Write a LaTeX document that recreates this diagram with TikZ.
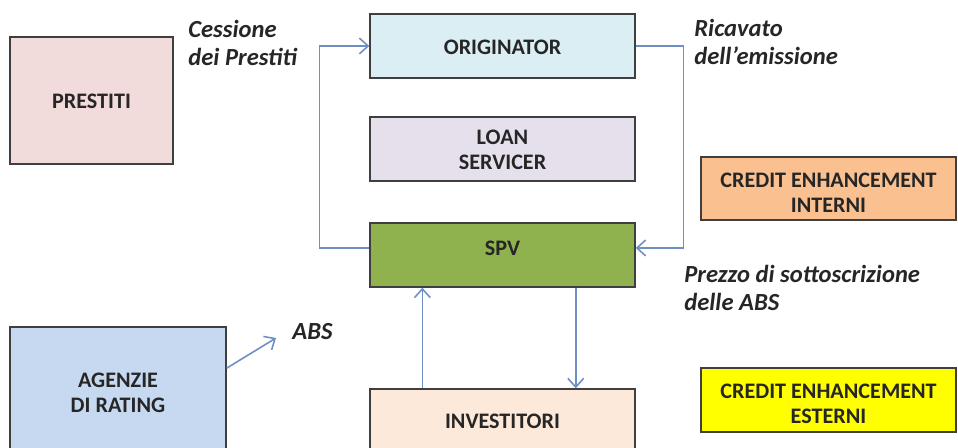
\documentclass[tikz,border=0pt]{standalone}
\usepackage{fontspec}
\setmainfont{Carlito}
\usepackage{tikz}
\usetikzlibrary{arrows.meta}

\definecolor{boxline}{HTML}{3F3F3F}
\definecolor{inkgray}{HTML}{262626}
\definecolor{flowblue}{HTML}{6F8FC4}
\definecolor{prestitifill}{HTML}{F2DCDB}
\definecolor{origfill}{HTML}{DBEEF4}
\definecolor{loanfill}{HTML}{E6E0EC}
\definecolor{spvfill}{HTML}{8FB24F}
\definecolor{internifill}{HTML}{FAC090}
\definecolor{esternifill}{HTML}{FFFF00}
\definecolor{investfill}{HTML}{FDE9D9}
\definecolor{agenziefill}{HTML}{C6D9F0}

\begin{document}
\begin{tikzpicture}[x = 0.02cm, y = -0.02cm,
	box/.style = {draw = boxline, line width = 0.8pt, align = center, inner sep = 0pt,
		text = inkgray, font = \bfseries\fontsize{12.6}{14.7}\selectfont},
	wide/.style = {box, minimum width = 5.3cm, minimum height = 1.28cm},
	drop/.style = {text height = #1, text depth = 0pt},
	flow/.style = {draw = flowblue, line width = 0.9pt, -{Straight Barb[length = 5pt, width = 9pt]}},
	tag/.style = {anchor = base west, align = left, inner sep = 0pt, text = inkgray,
		font = \bfseries\itshape\fontsize{14}{16}\selectfont},
]
\useasboundingbox (0,0) rectangle (958,448);

\node[box, drop = 9.6pt, fill = prestitifill, minimum width = 3.26cm, minimum height = 2.54cm] (prestiti) at (91.5,100.5) {PRESTITI};
\node[wide, drop = 10.2pt, fill = origfill] (originator) at (502.5,46) {ORIGINATOR};
\node[wide, drop = 23.8pt, fill = loanfill] (servicer) at (502.5,149) {LOAN\\SERVICER};
\node[wide, drop = 1.1pt, fill = spvfill] (spv) at (502.5,255) {SPV};
\node[wide, drop = 8pt, fill = investfill] (investitori) at (502.5,421) {INVESTITORI};
\node[box, drop = 25pt, fill = agenziefill, minimum width = 4.32cm, minimum height = 2.56cm] (agenzie) at (118,391) {AGENZIE\\DI RATING};
\node[box, drop = 27.8pt, fill = internifill, minimum width = 5.1cm, minimum height = 1.26cm] (interni) at (828.5,188.5) {CREDIT ENHANCEMENT\\INTERNI};
\node[box, drop = 27.2pt, fill = esternifill, minimum width = 5.1cm, minimum height = 1.28cm] (esterni) at (828.5,400) {CREDIT ENHANCEMENT\\ESTERNI};

\node[tag] (cessione) at (188,66) {Cessione\\dei Prestiti};
\node[tag] (ricavato) at (694,65) {Ricavato\\dell'emissione};
\node[tag] (prezzo) at (684,311) {Prezzo di sottoscrizione\\delle ABS};
\node[tag] (abs) at (292,340) {ABS};
\coordinate (abstip) at (276,338);

\draw[flow] ([yshift = 4pt]spv.west) -- ++(-50,0) |- (originator.west);
\draw[flow] (originator.east) -- ++(48,0) |- ([yshift = 4pt]spv.east);
\draw[flow] ([xshift = -45.6pt]investitori.north) -- ([xshift = -45.6pt]spv.south);
\draw[flow] ([xshift = 41.7pt]spv.south) -- ([xshift = 41.7pt]investitori.north);
\draw[flow] ([yshift = 13pt]agenzie.east) -- (abstip);

\end{tikzpicture}
\end{document}
